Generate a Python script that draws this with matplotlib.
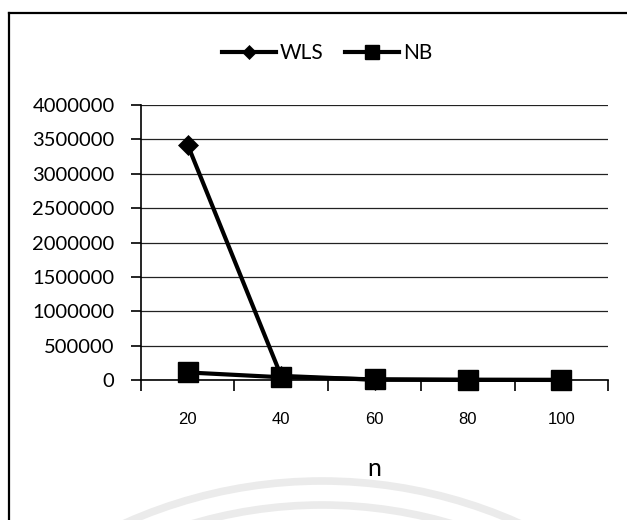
import matplotlib.pyplot as plt
from matplotlib.lines import Line2D
from matplotlib.patches import Arc
from matplotlib.transforms import IdentityTransform

# sample sizes and the two estimator curves
n_values = ['20', '40', '60', '80', '100']
wls = [3420000, 60000, 4000, 1500, 800]
nb = [110000, 40000, 10000, 3000, 1000]
y_ticks = [0, 500000, 1000000, 1500000, 2000000, 2500000, 3000000, 3500000, 4000000]

W, H = 627, 520
fig = plt.figure(figsize=(W / 100, H / 100), dpi=100)

# faint emblem rings at the bottom of the page
for r in (482, 458):
    fig.patches.append(Arc((322, -443), 2 * r, 2 * r, theta1=55, theta2=125,
                           transform=IdentityTransform(), color='#ebebeb', lw=5.5))

# outer chart frame (left and top edges)
fig.add_artist(Line2D([9 / W, 9 / W], [0, 1 - 13 / H], color='black', lw=1.6))
fig.add_artist(Line2D([9 / W, 1], [1 - 13 / H, 1 - 13 / H], color='black', lw=1.6))

ax = fig.add_axes([141 / W, 1 - 380 / H, (608 - 141) / W, (380 - 105) / H])
x = list(range(1, len(n_values) + 1))

# markers near zero would be cut in half by the axes edge
ax.plot(x, wls, color='black', lw=3, marker='D', ms=10.5, mew=0.5, label='WLS', zorder=3, clip_on=False)
ax.plot(x, nb, color='black', lw=3, marker='s', ms=15, label='NB', zorder=4, clip_on=False)

ax.set_xlim(0.5, len(n_values) + 0.5)
ax.set_ylim(0, 4000000)
ax.set_yticks(y_ticks)
ax.set_yticklabels([str(v) for v in y_ticks], fontsize=14.5, fontfamily='Lato')
ax.yaxis.grid(True, color='#222222', lw=0.9)
ax.set_axisbelow(True)

# category labels sit between boundary tick marks
ax.set_xticks(x)
ax.set_xticklabels(n_values, fontsize=12, fontfamily='Liberation Sans')
ax.tick_params(axis='x', which='major', length=0, pad=23)
ax.set_xticks([v + 0.5 for v in range(0, len(n_values) + 1)], minor=True)
ax.tick_params(axis='x', which='minor', length=8, width=1.2, direction='out')
ax.tick_params(axis='y', length=7, width=1.2, direction='out', pad=12)

for side in ('top', 'right'):
    ax.spines[side].set_visible(False)
ax.spines['left'].set_linewidth(1.2)
ax.spines['bottom'].set_linewidth(1.2)

ax.set_xlabel('n', fontsize=18, fontfamily='Lato', labelpad=22)

fig.legend(loc='center', bbox_to_anchor=(327 / W, 1 - 53 / H), ncol=2, frameon=False,
           prop={'family': 'Lato', 'size': 15}, markerscale=0.7, handlelength=2.6,
           handletextpad=0.2, columnspacing=1.0)

plt.savefig('out.png', dpi=100)
